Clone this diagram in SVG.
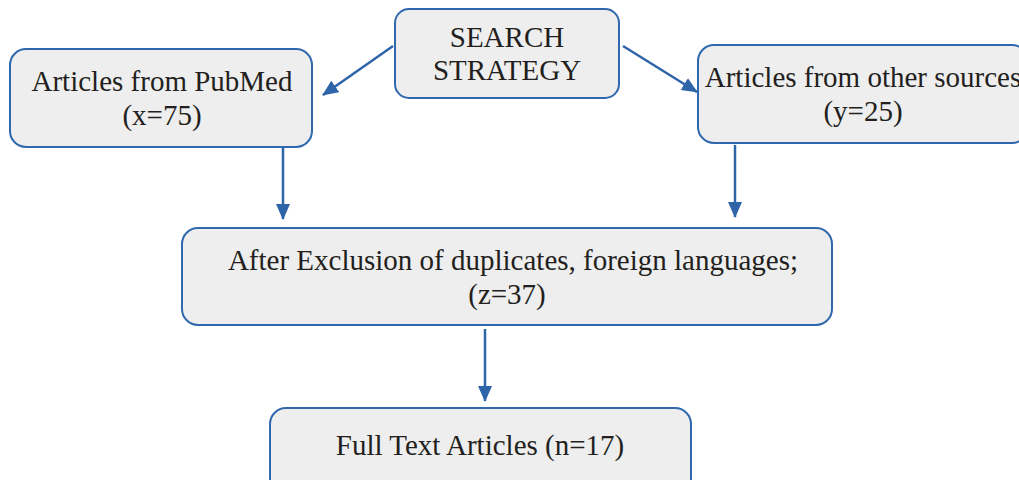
<svg xmlns="http://www.w3.org/2000/svg" width="1019" height="480" viewBox="0 0 1019 480">
<style>
.box{fill:#eeeeee;stroke:#2f68ad;stroke-width:2}
.t{font-family:"Liberation Serif","Times New Roman",serif;font-size:29px;fill:#231f20;text-anchor:middle}
.c{stroke:#2e64a8;stroke-width:2.5;fill:none;marker-end:url(#ah)}
</style>
<defs>
<marker id="ah" markerUnits="userSpaceOnUse" markerWidth="16" markerHeight="14" viewBox="0 0 16 14" refX="15" refY="7" orient="auto">
<path d="M0,0 L16,7 L0,14 Z" fill="#2e64a8"/>
</marker>
</defs>
<rect width="1019" height="480" fill="#ffffff"/>
<g id="connectors">
<line class="c" x1="393" y1="46" x2="323" y2="95"/>
<line class="c" x1="623" y1="46" x2="697" y2="92"/>
<line class="c" x1="283" y1="148" x2="283" y2="219"/>
<line class="c" x1="735" y1="145" x2="735" y2="217"/>
<line class="c" x1="485" y1="329" x2="485" y2="401"/>
</g>
<g id="search">
<rect class="box" x="395" y="9" width="224" height="89" rx="14"/>
<text class="t" x="507" y="47">SEARCH</text>
<text class="t" x="507" y="80">STRATEGY</text>
</g>
<g id="pubmed">
<rect class="box" x="10" y="49" width="302" height="98" rx="16"/>
<text class="t" x="162" y="91">Articles from PubMed</text>
<text class="t" x="162" y="125">(x=75)</text>
</g>
<g id="other">
<rect class="box" x="698" y="45" width="330" height="98" rx="16"/>
<text class="t" x="863" y="87">Articles from other sources</text>
<text class="t" x="863" y="121">(y=25)</text>
</g>
<g id="exclusion">
<rect class="box" x="182" y="228" width="650" height="97" rx="16"/>
<text class="t" x="513" y="270">After Exclusion of duplicates, foreign languages;</text>
<text class="t" x="507" y="304">(z=37)</text>
</g>
<g id="fulltext">
<rect class="box" x="270" y="408" width="421" height="90" rx="16"/>
<text class="t" x="480" y="455">Full Text Articles (n=17)</text>
</g>
</svg>
